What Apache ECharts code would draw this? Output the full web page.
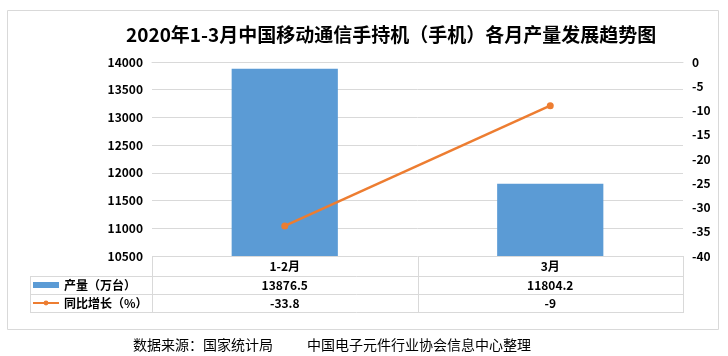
<!DOCTYPE html>
<html><head><meta charset="utf-8">
<script src="https://cdn.jsdelivr.net/npm/echarts@6/dist/echarts.min.js"></script>
<style>html,body{margin:0;padding:0;background:#fff}#c{width:728px;height:356px}</style>
</head><body><div id="c"></div>
<script>
const titleText = '2020年1-3月中国移动通信手持机（手机）各月产量发展趋势图';
const categories = ['1-2月', '3月'];
const production = [13876.5, 11804.2];
const growth = [-33.8, -9];
const leftTicks = { min: 10500, max: 14000, interval: 500 };
const rightTicks = { min: -40, max: 0, interval: 5 };
const seriesNames = ['产量（万台）', '同比增长（%）'];
const sourceLeft = '数据来源：国家统计局';
const sourceRight = '中国电子元件行业协会信息中心整理';

const FONT = '"Noto Sans CJK SC", "Noto Sans", sans-serif';
const GRID = '#d9d9d9';
const BLUE = '#5b9bd5';
const ORANGE = '#ed7d31';
const lbl = { fontFamily: FONT, fontSize: 12, fontWeight: 'bold', color: '#000' };

const chart = echarts.init(document.getElementById('c'), null, { renderer: 'canvas' });
const rowAxis = (data, offset) => ({
  type: 'category', data: data.map(String), position: 'bottom', offset: offset, gridIndex: 0,
  axisLine: { show: false }, axisTick: { show: false }, splitLine: { show: false },
  axisLabel: Object.assign({ margin: 4, interval: 0 }, lbl)
});
chart.setOption({
  animation: false,
  title: {
    text: titleText, left: 121, top: 20,
    textStyle: { fontFamily: FONT, fontSize: 19, fontWeight: 'bold', color: '#000' }
  },
  legend: {
    orient: 'vertical', left: 32, top: 279, padding: 0, itemWidth: 26, itemHeight: 6, itemGap: 6,
    textStyle: Object.assign({ lineHeight: 12 }, lbl),
    data: [{ name: seriesNames[0], icon: 'rect' }, { name: seriesNames[1] }]
  },
  grid: { left: 152, right: 45, top: 62, bottom: 100 },
  xAxis: [
    {
      type: 'category', data: categories,
      axisLine: { lineStyle: { color: GRID } },
      axisTick: { show: false },
      splitLine: { show: false },
      axisLabel: Object.assign({ margin: 4 }, lbl)
    },
    rowAxis(production, 19),
    rowAxis(growth, 37)
  ],
  yAxis: [
    Object.assign({
      type: 'value', position: 'left',
      axisLine: { show: false }, axisTick: { show: false },
      splitLine: { lineStyle: { color: GRID } },
      axisLabel: Object.assign({ margin: 9, formatter: v => String(v) }, lbl)
    }, leftTicks),
    Object.assign({
      type: 'value', position: 'right',
      axisLine: { show: false }, axisTick: { show: false },
      splitLine: { show: false },
      axisLabel: Object.assign({ margin: 9, formatter: v => String(v) }, lbl)
    }, rightTicks)
  ],
  series: [
    { name: seriesNames[0], type: 'bar', data: production, barWidth: '40%',
      itemStyle: { color: BLUE } },
    { name: seriesNames[1], type: 'line', yAxisIndex: 1, data: growth,
      symbol: 'circle', symbolSize: 7,
      lineStyle: { color: ORANGE, width: 2.5 }, itemStyle: { color: ORANGE } }
  ]
});

// table frame: vertical separators at category boundaries, computed from the grid
const gridRect = chart.getModel().getComponent('grid').coordinateSystem.getRect();
const x0 = Math.round(gridRect.x) + 0.5;
const x2 = Math.round(gridRect.x + gridRect.width) + 0.5;
const xm = Math.round(gridRect.x + gridRect.width / 2) + 0.5;
const yb = Math.round(gridRect.y + gridRect.height);
const L = (x1, y1, xx, y2) => ({ type: 'line', silent: true, shape: { x1, y1, x2: xx, y2 }, style: { stroke: GRID, lineWidth: 1 } });
chart.setOption({
  graphic: [
    { type: 'rect', silent: true, shape: { x: 7.5, y: 10.5, width: 711, height: 319 },
      style: { fill: 'none', stroke: GRID, lineWidth: 1 } },
    L(30, yb + 20.5, x2, yb + 20.5),
    L(30, yb + 38.5, x2, yb + 38.5),
    L(30, yb + 56.5, x2, yb + 56.5),
    L(30.5, yb + 20, 30.5, yb + 57),
    L(x0, yb, x0, yb + 57),
    L(xm, yb, xm, yb + 57),
    L(x2, yb, x2, yb + 57),
    { type: 'text', left: 133, top: 338,
      style: { text: sourceLeft, font: '14px ' + FONT, fill: '#000' } },
    { type: 'text', left: 307, top: 338,
      style: { text: sourceRight, font: '14px ' + FONT, fill: '#000' } }
  ]
});
</script></body></html>
